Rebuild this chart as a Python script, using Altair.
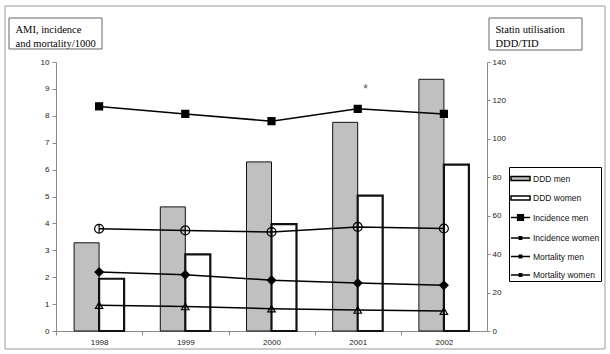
import altair as alt
import pandas as pd

# ---- data ----
years = ["1998", "1999", "2000", "2001", "2002"]
ddd_men = [45.9, 64.6, 88.0, 108.6, 131.0]
ddd_women = [27.2, 39.9, 55.6, 70.5, 86.6]
inc_men = [8.35, 8.07, 7.80, 8.26, 8.07]
inc_women = [3.80, 3.74, 3.68, 3.87, 3.81]
mort_men = [2.19, 2.09, 1.89, 1.78, 1.70]
mort_women = [0.96, 0.91, 0.83, 0.78, 0.74]

series_names = ["DDD men", "DDD women", "Incidence men", "Incidence women",
                "Mortality men", "Mortality women"]
legend_fills = ["#c0c0c0", "#ffffff", "#000000", "#000000", "#000000", "#000000"]
legend_paths = [
    "M-1,-0.22H1V0.22H-1Z",
    "M-1,-0.22H1V0.22H-1Z",
    "M-1,0H1M-0.3,-0.3H0.3V0.3H-0.3Z",
    "M-1,0H1M-0.12,-0.12H0.12V0.12H-0.12Z",
    "M-1,0H1M-0.12,-0.12H0.12V0.12H-0.12Z",
    "M-1,0H1M-0.12,-0.12H0.12V0.12H-0.12Z",
]
star_year = ["2001"]
star_value = [9.1]

bars_df = pd.DataFrame(
    [{"year": y, "series": "DDD men", "ddd": v} for y, v in zip(years, ddd_men)]
    + [{"year": y, "series": "DDD women", "ddd": v} for y, v in zip(years, ddd_women)]
)
line_series = {
    "Incidence men": inc_men,
    "Incidence women": inc_women,
    "Mortality men": mort_men,
    "Mortality women": mort_women,
}
lines_df = pd.DataFrame(
    [{"year": y, "series": s, "rate": v} for s, vals in line_series.items() for y, v in zip(years, vals)]
)
star_df = pd.DataFrame({"year": star_year, "rate": star_value})
one_df = pd.DataFrame({"k": [0]})

LAB_FONT = "Liberation Sans"
SERIF = "Liberation Serif"
AX_GRAY = "#8a8a8a"

x_scale = alt.Scale(domain=years, paddingInner=0.42, paddingOuter=0.21)
y_left_scale = alt.Scale(domain=[0, 10], nice=False)
y_right_scale = alt.Scale(domain=[0, 140], nice=False)
fill_scale = alt.Scale(domain=series_names, range=legend_fills)

x_axis = alt.Axis(title=None, labelAngle=0, tickOffset=-43, labelOffset=43,
                  domainColor=AX_GRAY, tickColor=AX_GRAY, tickSize=4, labelFont=LAB_FONT,
                  labelFontSize=8, labelColor="#222222", labelPadding=3)
y_left_axis = alt.Axis(orient="left", values=list(range(0, 11)), grid=False,
                       tickSize=4, tickColor=AX_GRAY, domainColor=AX_GRAY,
                       labelFont=LAB_FONT, labelFontSize=8, labelColor="#222222",
                       labelPadding=3,
                       title=["AMI, incidence", "and mortality/1000"], titleX=-41, titleY=-38,
                       titleAngle=0, titleAlign="left", titleBaseline="top",
                       titleFont=SERIF, titleFontSize=10.5, titleFontWeight="normal",
                       titleLineHeight=14, titleColor="#000000")
y_right_axis = alt.Axis(orient="right", values=list(range(0, 141, 20)), grid=False,
                        tickSize=3, tickColor=AX_GRAY, domainColor=AX_GRAY,
                        labelFont=LAB_FONT, labelFontSize=8, labelColor="#222222",
                        labelPadding=2,
                        title=["Statin utilisation", "DDD/TID"], titleX=8, titleY=-38,
                        titleAngle=0, titleAlign="left", titleBaseline="top",
                        titleFont=SERIF, titleFontSize=10.5, titleFontWeight="normal",
                        titleLineHeight=14, titleColor="#000000")
legend_def = alt.Legend(title=None, orient="none", legendX=453, legendY=105,
                        strokeColor="#000000", fillColor="#ffffff", padding=1,
                        symbolSize=361, rowPadding=3.5, labelFont=LAB_FONT,
                        labelFontSize=8.5, labelColor="#111111", labelOffset=2,
                        symbolStrokeColor="#000000", symbolStrokeWidth=1.5)


def xenc():
    return alt.X("year:O", scale=x_scale, axis=x_axis)


def yleft(field="rate:Q"):
    return alt.Y(field, scale=y_left_scale, axis=y_left_axis)


# ---- bars (right axis) ----
bars = alt.Chart(bars_df).mark_bar(stroke="#111111").encode(
    x=xenc(),
    xOffset=alt.XOffset("series:N", scale=alt.Scale(domain=["DDD men", "DDD women"])),
    y=alt.Y("ddd:Q", scale=y_right_scale, axis=y_right_axis),
    fill=alt.Fill("series:N", scale=fill_scale, legend=legend_def),
    strokeWidth=alt.condition("datum.series == 'DDD women'", alt.value(2.2), alt.value(1)),
)

# ---- lines (left axis) ----
lines = alt.Chart(lines_df).mark_line(color="black", strokeWidth=1.5).encode(
    x=xenc(), y=yleft(), detail="series:N",
)

marker_specs = [
    ("Incidence men", "square", 49, "black"),
    ("Incidence women", "M-1,0A1,1,0,1,1,1,0A1,1,0,1,1,-1,0ZM0,-1V1", 80, "transparent"),
    ("Mortality men", "diamond", 70, "black"),
    ("Mortality women", "triangle-up", 55, "transparent"),
]
point_layers = []
for name, shp, sz, fc in marker_specs:
    point_layers.append(
        alt.Chart(lines_df).transform_filter(alt.datum.series == name)
        .mark_point(shape=shp, size=sz, filled=True, fill=fc, stroke="black",
                    strokeWidth=1.2, opacity=1)
        .encode(x=xenc(), y=yleft())
    )

star = alt.Chart(star_df).mark_text(text="*", dx=8, dy=3, fontSize=12, font=LAB_FONT,
                                    color="#555555").encode(x=xenc(), y=yleft())

# ---- legend (built from an empty layer sharing the fill scale) ----
legend_layer = alt.Chart(lines_df).transform_filter("false").mark_point(
    filled=True, opacity=1, stroke="black", strokeWidth=1.5).encode(
    shape=alt.Shape("series:N", scale=alt.Scale(domain=series_names, range=legend_paths),
                    legend=legend_def),
    fill=alt.Fill("series:N", scale=fill_scale, legend=legend_def),
)

# ---- frame and title boxes ----
frame = alt.Chart(one_df).mark_rect(fill="transparent", stroke="#9a9a9a", strokeWidth=1).encode(
    x=alt.value(-51), x2=alt.value(549), y=alt.value(-56), y2=alt.value(287))
box_left = alt.Chart(one_df).mark_rect(fill="transparent", stroke="#666666", strokeWidth=1).encode(
    x=alt.value(-47), x2=alt.value(46), y=alt.value(-44), y2=alt.value(-13))
box_right = alt.Chart(one_df).mark_rect(fill="transparent", stroke="#666666", strokeWidth=1).encode(
    x=alt.value(433), x2=alt.value(526), y=alt.value(-44), y2=alt.value(-12))

inner = alt.layer(frame, box_left, box_right, lines, *point_layers, star, legend_layer)

chart = alt.layer(bars, inner).resolve_scale(y="independent").properties(
    width=431, height=269,
    autosize=alt.AutoSizeParams(type="none"),
    padding={"left": 56, "top": 62, "right": 123, "bottom": 23},
).configure_view(strokeWidth=0)

chart.save("out.html", embed_options={"renderer": "svg", "actions": False})
